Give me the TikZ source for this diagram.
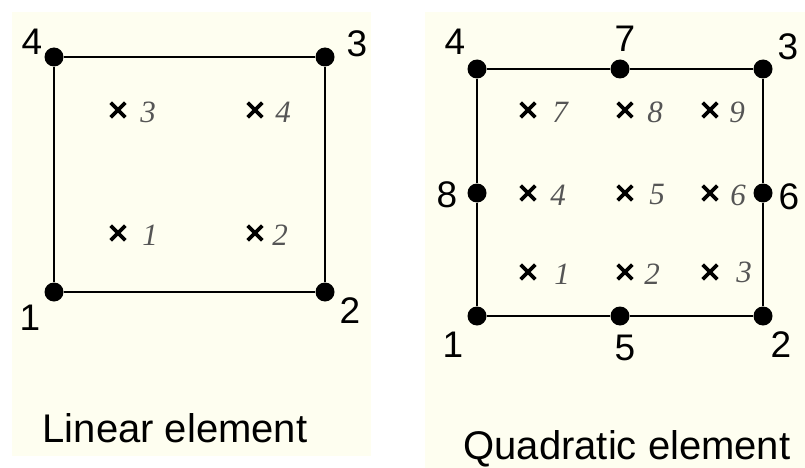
\documentclass[tikz,border=0pt]{standalone}
\usepackage{fontspec}
\setmainfont{Liberation Sans}
\newfontfamily\gaussfont{Liberation Serif}
\usetikzlibrary{shapes.misc,positioning}
\definecolor{panelbg}{RGB}{254,254,240}
\definecolor{gaussgray}{RGB}{85,85,85}

\begin{document}
\begin{tikzpicture}[
  x=1pt, y=-1pt,
  every node/.style={inner sep=0pt},
  panel/.style={fill=panelbg, draw=none},
  nodedot/.style={circle, fill=black, minimum size=19pt},
  edge/.style={draw=black, line width=2pt},
  numlbl/.style={font=\fontsize{37}{40}\selectfont},
  gauss/.style={cross out, draw=black, line width=3.6pt, minimum size=11pt},
  gausslbl/.style={font=\gaussfont\itshape\fontsize{31}{33}\selectfont,
                   text=gaussgray},
  title/.style={font=\fontsize{40}{44}\selectfont},
]
\useasboundingbox (0,0) rectangle (805,468);

%% Panels
\fill[panel] (12,12) rectangle (371,456);
\fill[panel] (425,12) rectangle (805,468);

%% Linear element
\node[nodedot] (l1) at (54,292) {};
\node[nodedot] (l2) at (325,292) {};
\node[nodedot] (l3) at (325,57) {};
\node[nodedot] (l4) at (54,57) {};
\draw[edge] (l1) -- (l2);
\draw[edge] (l2) -- (l3);
\draw[edge] (l3) -- (l4);
\draw[edge] (l4) -- (l1);

\node[numlbl] (l1lbl) at (30,318) {1};
\node[numlbl] (l2lbl) at (350,311) {2};
\node[numlbl] (l3lbl) at (357,44) {3};
\node[numlbl] (l4lbl) at (32,42) {4};

\node[gauss] (lg1) at (118,233) {};
\node[gauss] (lg2) at (255,233) {};
\node[gauss] (lg3) at (118,110) {};
\node[gauss] (lg4) at (255,110) {};
\node[gausslbl] at (150,235) {1};
\node[gausslbl] at (280,235) {2};
\node[gausslbl] at (148,112) {3};
\node[gausslbl] at (283,112) {4};

\node[title] (ltitle) at (175,428) {Linear element};

%% Quadratic element
\node[nodedot] (q1) at (477,316) {};
\node[nodedot] (q2) at (763,316) {};
\node[nodedot] (q3) at (763,69) {};
\node[nodedot] (q4) at (477,69) {};
\node[nodedot] (q5) at (620,316) {};
\node[nodedot] (q6) at (763,193) {};
\node[nodedot] (q7) at (620,69) {};
\node[nodedot] (q8) at (477,193) {};
\draw[edge] (q1) -- (q5);
\draw[edge] (q5) -- (q2);
\draw[edge] (q2) -- (q6);
\draw[edge] (q6) -- (q3);
\draw[edge] (q3) -- (q7);
\draw[edge] (q7) -- (q4);
\draw[edge] (q4) -- (q8);
\draw[edge] (q8) -- (q1);

\node[numlbl] (q1lbl) at (453,345) {1};
\node[numlbl] (q2lbl) at (781,345) {2};
\node[numlbl] (q3lbl) at (788,47) {3};
\node[numlbl] (q4lbl) at (455,42) {4};
\node[numlbl] (q5lbl) at (625,348) {5};
\node[numlbl] (q6lbl) at (789,197) {6};
\node[numlbl] (q7lbl) at (625,39) {7};
\node[numlbl] (q8lbl) at (447,195) {8};

\node[gauss] (qg1) at (528,272) {};
\node[gauss] (qg2) at (625,272) {};
\node[gauss] (qg3) at (710,272) {};
\node[gauss] (qg4) at (528,193) {};
\node[gauss] (qg5) at (625,193) {};
\node[gauss] (qg6) at (710,193) {};
\node[gauss] (qg7) at (528,110) {};
\node[gauss] (qg8) at (625,110) {};
\node[gauss] (qg9) at (710,110) {};
\node[gausslbl] at (562,274) {1};
\node[gausslbl] at (652,274) {2};
\node[gausslbl] at (744,272) {3};
\node[gausslbl] at (558,195) {4};
\node[gausslbl] at (657,195) {5};
\node[gausslbl] at (738,195) {6};
\node[gausslbl] at (560,112) {7};
\node[gausslbl] at (655,112) {8};
\node[gausslbl] at (737,112) {9};

\node[title] (qtitle) at (627,449) {Quadratic element};

\end{tikzpicture}
\end{document}
